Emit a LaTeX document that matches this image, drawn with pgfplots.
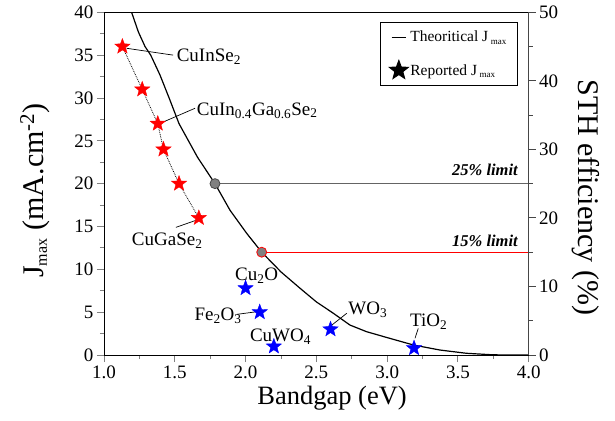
\documentclass[border=0pt]{standalone}
\usepackage{fontspec}
\setmainfont{Liberation Serif}
\usepackage{pgfplots}
\pgfplotsset{compat=1.18}
\definecolor{cLimit}{RGB}{100,100,100}
\definecolor{cDot}{RGB}{128,128,128}
\definecolor{cSpine}{RGB}{70,70,70}
\newcommand{\fs}[1]{\fontsize{#1}{#1}\selectfont}

% filled five-pointed star
\pgfdeclareplotmark{fstar}{%
  \pgfpathmoveto{\pgfpointpolar{90}{\pgfplotmarksize}}%
  \pgfpathlineto{\pgfpointpolar{126}{0.42\pgfplotmarksize}}%
  \pgfpathlineto{\pgfpointpolar{162}{\pgfplotmarksize}}%
  \pgfpathlineto{\pgfpointpolar{198}{0.42\pgfplotmarksize}}%
  \pgfpathlineto{\pgfpointpolar{234}{\pgfplotmarksize}}%
  \pgfpathlineto{\pgfpointpolar{270}{0.42\pgfplotmarksize}}%
  \pgfpathlineto{\pgfpointpolar{306}{\pgfplotmarksize}}%
  \pgfpathlineto{\pgfpointpolar{342}{0.42\pgfplotmarksize}}%
  \pgfpathlineto{\pgfpointpolar{18}{\pgfplotmarksize}}%
  \pgfpathlineto{\pgfpointpolar{54}{0.42\pgfplotmarksize}}%
  \pgfpathclose
  \pgfusepathqfillstroke}

\pgfplotsset{
  jbase/.style={
    scale only axis, width=424.7pt, height=342.7pt,
    xmin=1, xmax=4,
    tick align=outside,
    major tick length=7pt, minor tick length=4pt,
    tick style={line width=0.9pt},
    axis line style={line width=0.9pt},
    tick label style={font=\fs{19}},
    /pgf/number format/assume math mode=true,
  },
  shortline legend/.style={
    legend image code/.code={\draw[##1] (0.05cm,0cm) -- (0.55cm,0cm);}},
}

\begin{document}
\begin{tikzpicture}
\begin{axis}[
  jbase,
  ymin=0, ymax=40,
  tick pos=left,
  xtick={1,1.5,2,2.5,3,3.5,4}, minor x tick num=1,
  ytick={0,5,...,40}, minor y tick num=1,
  xticklabel style={/pgf/number format/.cd, fixed, fixed zerofill, precision=1},
  xlabel={Bandgap (eV)},
  xlabel style={font=\fs{26.5}, at={(axis description cs:0.537,-0.125)}, anchor=center},
  ylabel={J\textsubscript{\fs{16}max} (mA.cm\textsuperscript{-2})},
  ylabel style={font=\fs{30}, at={(axis description cs:-0.163,0.48)}, anchor=center},
  legend style={at={(0.9755,0.9726)}, anchor=north east, draw=black, line width=0.9pt,
                font=\fs{15.5}, row sep=15pt, inner xsep=9pt, inner ysep=7pt,
                legend cell align=left},
]
\coordinate (sw) at (rel axis cs:0,0);
\coordinate (ne) at (rel axis cs:1,1);

% theoretical limit curve
\addplot[black, line width=1.2pt, shortline legend] coordinates {
  (1.195,40.0) (1.243,37.7) (1.29,36.0) (1.33,35.0) (1.395,32.7) (1.46,30.0)
  (1.53,27.0) (1.60,24.9) (1.66,23.1) (1.72,21.6) (1.784,20.0) (1.89,16.9)
  (2.008,14.2) (2.114,12.0) (2.25,9.7) (2.384,7.8) (2.50,6.2) (2.62,4.87)
  (2.737,3.5) (2.855,2.72) (2.996,2.05) (3.185,1.17) (3.373,0.58) (3.56,0.2)
  (3.75,0.02) (4.0,0)};
\addlegendentry{Theoritical J\,\textsubscript{\fs{9}max}}
\addlegendimage{only marks, mark=fstar, mark size=10pt, black}
\addlegendentry{Reported J\,\textsubscript{\fs{9}max}}

% limit lines
\addplot[cLimit, line width=1.3pt, forget plot] coordinates {(1.784,20) (4,20)};
\addplot[red, line width=1.3pt, forget plot] coordinates {(2.114,12) (4,12)};
\addplot[only marks, mark=*, mark size=5pt, mark options={fill=cDot, draw=cSpine, line width=0.8pt}, forget plot]
  coordinates {(1.784,20)};
\addplot[only marks, mark=*, mark size=5pt, mark options={fill=cDot, draw=red, line width=0.8pt}, forget plot]
  coordinates {(2.114,12)};

% chalcopyrites
\addplot[black, densely dotted, line width=0.8pt, mark=fstar, mark size=8pt,
  mark options={solid, fill=red, draw=red, line width=0.4pt}, forget plot] coordinates {
  (1.13,36) (1.27,31) (1.38,27) (1.42,24) (1.53,20) (1.67,16)};
% oxides
\addplot[only marks, mark=fstar, mark size=8pt,
  mark options={fill=blue, draw=blue, line width=0.4pt}, forget plot] coordinates {
  (2.0,7.8) (2.1,5.0) (2.2,1.0) (2.6,3.0) (3.19,0.8)};

% labels
\draw[line width=0.7pt] (axis cs:1.16,35.8) -- (axis cs:1.489,35.0);
\draw[line width=0.7pt] (axis cs:1.419,27.2) -- (axis cs:1.643,28.8);
\draw[line width=0.7pt] (axis cs:1.508,14.9) -- (axis cs:1.655,15.75);
\draw[line width=0.7pt] (axis cs:1.941,4.75) -- (axis cs:2.078,5.05);
\draw[line width=0.7pt] (axis cs:2.61,3.5) -- (axis cs:2.715,4.87);
\draw[line width=0.7pt] (axis cs:3.197,1.95) -- (axis cs:3.22,3.1);
\begin{scope}[every node/.style={font=\fs{19}, inner sep=0pt}]
\node[anchor=base west] at (axis cs:1.513,34.2) {CuInSe\textsubscript{2}};
\node[anchor=base west] at (axis cs:1.655,28.0) {CuIn\textsubscript{0.4}Ga\textsubscript{0.6}Se\textsubscript{2}};
\node[anchor=base west] at (axis cs:1.196,12.8) {CuGaSe\textsubscript{2}};
\node[anchor=base west] at (axis cs:1.925,8.67) {Cu\textsubscript{2}O};
\node[anchor=base west] at (axis cs:1.638,4.0) {Fe\textsubscript{2}O\textsubscript{3}};
\node[anchor=base west] at (axis cs:2.03,1.55) {CuWO\textsubscript{4}};
\node[anchor=base west] at (axis cs:2.725,4.67) {WO\textsubscript{3}};
\node[anchor=base west] at (axis cs:3.161,3.3) {TiO\textsubscript{2}};
\end{scope}
\node[anchor=base east, inner sep=0pt, font=\fs{16.5}\bfseries\itshape] at (axis cs:3.924,21.0) {25\% limit};
\node[anchor=base east, inner sep=0pt, font=\fs{16.5}\bfseries\itshape] at (axis cs:3.924,12.7) {15\% limit};
\end{axis}

\begin{axis}[
  jbase,
  ymin=0, ymax=50,
  axis x line=none, axis y line*=right,
  ytick={0,10,...,50}, minor y tick num=1,
  y axis line style={cSpine}, ytick style={cSpine},
  ylabel={STH efficiency (\%)},
  ylabel style={font=\fs{30}, at={(axis description cs:1.135,0.46)}, anchor=center, rotate=180},
]
\end{axis}
\pgfresetboundingbox
\path ([shift={(-104pt,-65pt)}]sw) rectangle ([shift={(86.3pt,12.3pt)}]ne);
\end{tikzpicture}
\end{document}
